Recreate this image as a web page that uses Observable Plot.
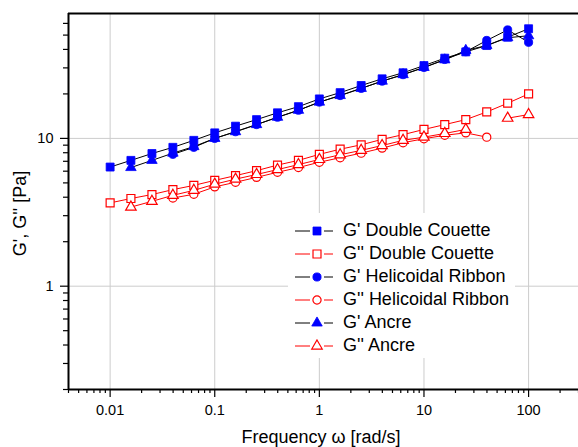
<!DOCTYPE html>
<html><head><meta charset="utf-8">
<script src="https://cdn.jsdelivr.net/npm/d3@7"></script>
<script src="https://cdn.jsdelivr.net/npm/@observablehq/plot@0.6"></script>
<style>
body{margin:0;background:#fff}
#wrap{position:relative;width:578px;height:447px;font-family:"Liberation Sans",Arial,sans-serif}
#legend{position:absolute;left:288px;top:213px;width:227px;height:145px;background:#fff;padding-top:6px;box-sizing:border-box}
.row{height:23px;display:flex;align-items:center;font-size:18px;color:#000;white-space:nowrap}
.row svg{margin-left:7px;margin-right:8px;flex:none}
</style>
</head><body>
<div id="wrap"><div id="legend"></div></div>
<script>
const freq = [0.01, 0.0158, 0.0251, 0.0398, 0.0631, 0.1, 0.158, 0.251, 0.398, 0.631, 1, 1.58, 2.51, 3.98, 6.31, 10, 15.8, 25.1, 39.8, 63.1, 100];
const gpDoubleCouette  = [6.4, 7.1, 7.9, 8.7, 9.7, 10.9, 12.1, 13.4, 14.9, 16.4, 18.5, 20.4, 22.8, 25.3, 27.8, 31.1, 34.9, 38.5, 42.5, 48.4, 55.2];
const gppDoubleCouette = [3.66, 3.92, 4.17, 4.5, 4.81, 5.2, 5.6, 6.05, 6.6, 7.1, 7.8, 8.45, 9.05, 9.85, 10.6, 11.5, 12.4, 13.4, 15.1, 17.3, 20.0];
const gpHelicoidal  = [null, null, null, 7.8, 8.7, 10.0, 11.1, 12.4, 13.9, 15.5, 17.6, 19.5, 21.8, 24.4, 27.0, 30.2, 34.2, 38.6, 46.0, 54.2, 44.7];
const gppHelicoidal = [null, null, null, 3.95, 4.19, 4.7, 5.05, 5.45, 5.9, 6.35, 6.9, 7.4, 7.95, 8.6, 9.35, 9.95, 10.5, 10.9, 10.2, null, null];
const gpAncre  = [null, 6.35, 7.1, 7.95, 8.8, 10.0, 11.1, 12.4, 13.9, 15.5, 17.6, 19.5, 21.8, 24.4, 27.0, 30.2, 34.0, 39.4, 42.5, 48.0, 49.5];
const gppAncre = [null, 3.43, 3.75, 4.12, 4.45, 4.9, 5.3, 5.7, 6.15, 6.65, 7.2, 7.75, 8.3, 8.95, 9.7, 10.2, 10.8, 11.5, null, 13.7, 14.5];

const xMajor = [0.01, 0.1, 1, 10, 100];
const yMajor = [1, 10];
const xLabel = "Frequency ω [rad/s]";
const yLabel = "G', G'' [Pa]";

const BLUE = "#0000ff", RED = "#ff0000";
const series = [
  {name: "G' Double Couette", values: gpDoubleCouette, symbol: "square", r: 4.5, open: false},
  {name: "G'' Double Couette", values: gppDoubleCouette, symbol: "square", r: 4.5, open: true},
  {name: "G' Helicoidal Ribbon", values: gpHelicoidal, symbol: "circle", r: 4.1, open: false},
  {name: "G'' Helicoidal Ribbon", values: gppHelicoidal, symbol: "circle", r: 4.1, open: true},
  {name: "G' Ancre", values: gpAncre, symbol: "triangle", r: 3.9, open: false},
  {name: "G'' Ancre", values: gppAncre, symbol: "triangle", r: 3.9, open: true}
];

const xMinor = [], yMinor = [];
for (const dec of [0.001, 0.01, 0.1, 1, 10, 100]) for (let m = 2; m <= 9; m++) { const v = +(dec * m).toPrecision(3); if (v >= 0.004 && v <= 300) xMinor.push(v); }
for (const dec of [0.1, 1, 10]) for (let m = 2; m <= 9; m++) { const v = +(dec * m).toPrecision(3); if (v >= 0.2 && v < 70) yMinor.push(v); }

const marks = [
  Plot.gridX(xMajor, {stroke: "#cccccc", strokeOpacity: 1, strokeWidth: 1}),
  Plot.gridY(yMajor, {stroke: "#cccccc", strokeOpacity: 1, strokeWidth: 1}),
];
for (const s of series) {
  const rows = freq.map((f, i) => ({f, v: s.values[i]}));
  marks.push(Plot.line(rows, {x: "f", y: "v", stroke: s.open ? RED : "#000", strokeWidth: 1}));
}
for (const s of series) {
  const rows = freq.map((f, i) => ({f, v: s.values[i]})).filter(d => d.v != null);
  marks.push(Plot.dot(rows, {x: "f", y: "v", symbol: s.symbol, r: s.r,
    fill: s.open ? "#fff" : BLUE, stroke: s.open ? RED : BLUE, strokeWidth: s.open ? 1.2 : 0.8}));
}
marks.push(
  Plot.axisX(xMinor, {tickSize: 4, tickFormat: () => "", label: null, strokeWidth: 1.2}),
  Plot.axisX(xMajor, {tickSize: 8, tickPadding: 7, tickFormat: d => String(d), label: null, fontSize: 14.5, strokeWidth: 1.2}),
  Plot.axisY(yMinor, {tickSize: 5, tickFormat: () => "", label: null, strokeWidth: 1.2}),
  Plot.axisY(yMajor, {tickSize: 8, tickPadding: 7, tickFormat: d => String(d), label: null, fontSize: 14.5, strokeWidth: 1.2}),
  Plot.ruleX([0.004], {stroke: "#000", strokeWidth: 2}),
  Plot.ruleY([0.2], {stroke: "#000", strokeWidth: 2}),
  Plot.ruleY([70], {stroke: "#000", strokeWidth: 2})
);

const chart = Plot.plot({
  width: 578, height: 447,
  marginLeft: 68, marginRight: 0, marginTop: 13, marginBottom: 58,
  x: {type: "log", domain: [0.004, 300]},
  y: {type: "log", domain: [0.2, 70]},
  style: {fontFamily: "'Liberation Sans', Arial, sans-serif", color: "#000", background: "#fff", overflow: "visible"},
  marks
});
const svgSel = d3.select(chart);
svgSel.append("text").attr("x", 321).attr("y", 443).attr("text-anchor", "middle")
  .attr("font-size", 18).attr("fill", "#000").text(xLabel);
svgSel.append("text").attr("transform", "translate(20,213.5) rotate(-90)").attr("text-anchor", "middle")
  .attr("dy", "0.35em").attr("font-size", 18).attr("fill", "#000").text(yLabel);
document.getElementById("wrap").prepend(chart);

const symMap = {square: d3.symbolSquare, circle: d3.symbolCircle, triangle: d3.symbolTriangle};
const legend = document.getElementById("legend");
for (const s of series) {
  const row = document.createElement("div");
  row.className = "row";
  const ns = "http://www.w3.org/2000/svg";
  const svg = document.createElementNS(ns, "svg");
  svg.setAttribute("width", 40); svg.setAttribute("height", 14);
  const lc = s.open ? RED : "#000";
  for (const [a, b] of [[0, 15], [29, 38]]) {
    const l = document.createElementNS(ns, "line");
    l.setAttribute("x1", a); l.setAttribute("x2", b); l.setAttribute("y1", 7); l.setAttribute("y2", 7);
    l.setAttribute("stroke", lc); l.setAttribute("stroke-width", 1);
    svg.appendChild(l);
  }
  const p = document.createElementNS(ns, "path");
  p.setAttribute("d", d3.symbol(symMap[s.symbol], Math.PI * s.r * s.r)());
  p.setAttribute("transform", "translate(22,7)");
  p.setAttribute("fill", s.open ? "#fff" : BLUE);
  p.setAttribute("stroke", s.open ? RED : BLUE);
  p.setAttribute("stroke-width", s.open ? 1.2 : 0.8);
  svg.appendChild(p);
  row.appendChild(svg);
  const span = document.createElement("span");
  span.textContent = s.name;
  row.appendChild(span);
  legend.appendChild(row);
}
</script>
</body></html>
